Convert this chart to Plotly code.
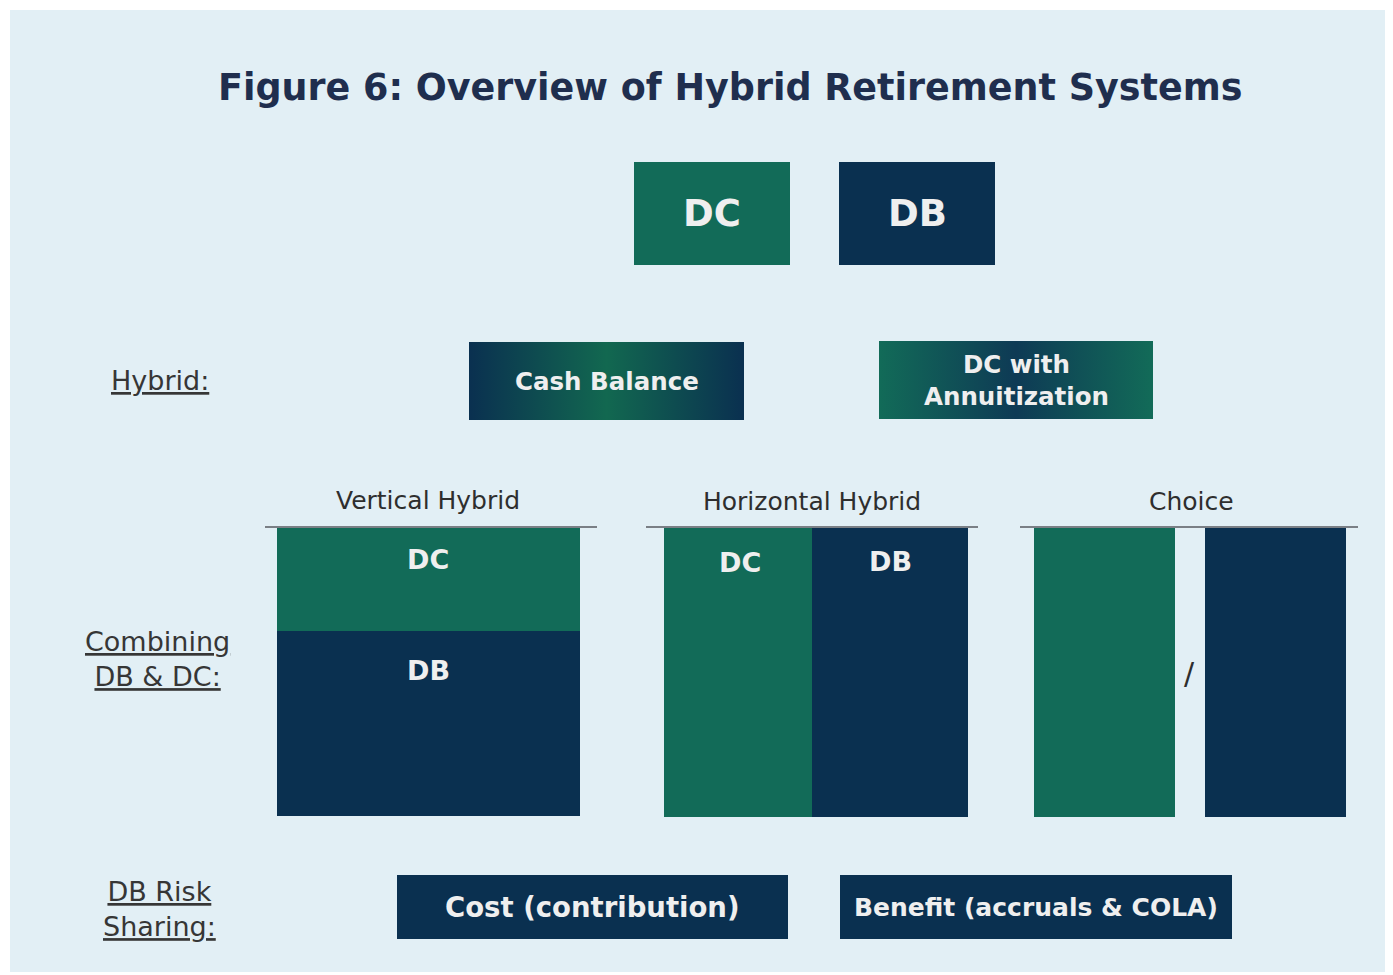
import plotly.graph_objects as go

# ---- content ----
title_text = "<b>Figure 6: Overview of Hybrid Retirement Systems</b>"
row_labels = ["Hybrid:", "Combining<br>DB & DC:", "DB Risk<br>Sharing:"]
top_labels = ["DC", "DB"]
hybrid_labels = ["Cash Balance", "DC with<br>Annuitization"]
section_labels = ["Vertical Hybrid", "Horizontal Hybrid", "Choice"]
risk_labels = ["Cost (contribution)", "Benefit (accruals & COLA)"]

# ---- styles ----
GREEN = "#126B58"
NAVY = "#0A3050"
BG = "#E2EFF5"
TXT = "#EFEFEF"
DARK = "#2E2E2E"
TITLE_C = "#1F2E4E"
FONT = "DejaVu Sans"

# ---- layout positions (pixels) ----
row_label_pos = [(160, 380), (157, 659), (159, 909)]
top_boxes = [(634, 790, 162, 265, GREEN), (839, 995, 162, 265, NAVY)]
hybrid_boxes = [(469, 744, 342, 420), (879, 1153, 341, 419)]
section_pos = [(428, 500, 265, 597), (812, 501, 646, 978), (1191, 501, 1020, 1358)]
risk_boxes = [(397, 788, 875, 939), (840, 1232, 875, 939)]

OFF = 8  # page body margin compensation

fig = go.Figure()
shapes = []
ann = []

def rect(x0, x1, y0, y1, color):
    shapes.append(dict(type="rect", xref="x", yref="y", x0=x0, x1=x1, y0=y0, y1=y1,
                       fillcolor=color, line=dict(width=0), layer="below"))

def text(x, y, t, size, color, bold=False, under=False, family=FONT):
    f = dict(size=size, color=color, family=family)
    if under:
        f["lineposition"] = "under"
    ann.append(dict(x=x, y=y, xref="x", yref="y", text=(f"<b>{t}</b>" if bold else t),
                    showarrow=False, font=f, align="center", xanchor="center", yanchor="middle"))

# background panel
rect(10, 1385, 10, 972, BG)

# title
ann.append(dict(x=730, y=87, xref="x", yref="y", text=title_text, showarrow=False,
                font=dict(size=36.5, color=TITLE_C, family=FONT), xanchor="center", yanchor="middle"))

# row labels
for (x, y), t in zip(row_label_pos, row_labels):
    text(x, y, t, 27, "#363636", under=True)

# top DC / DB boxes
for (x0, x1, y0, y1, c), t in zip(top_boxes, top_labels):
    rect(x0, x1, y0, y1, c)
    text((x0 + x1) / 2, (y0 + y1) / 2, t, 37, TXT, bold=True)

# hybrid boxes with gradient fills
grads = [
    [[0, NAVY], [0.5, "#126850"], [1, NAVY]],
    [[0, GREEN], [0.5, "#0E3A55"], [1, GREEN]],
]
for (x0, x1, y0, y1), t, g in zip(hybrid_boxes, hybrid_labels, grads):
    fig.add_trace(go.Scatter(x=[x0, x1, x1, x0, x0], y=[y0, y0, y1, y1, y0], mode="lines",
                             fill="toself", line=dict(width=0),
                             fillgradient=dict(type="horizontal", colorscale=g),
                             hoverinfo="skip", showlegend=False))
    text((x0 + x1) / 2, (y0 + y1) / 2, t, 24.5, TXT, bold=True)

# section headers and lines
for (cx, cy, lx0, lx1), t in zip(section_pos, section_labels):
    text(cx, cy, t, 25, DARK)
    shapes.append(dict(type="line", xref="x", yref="y", x0=lx0, x1=lx1, y0=527, y1=527,
                       line=dict(color="#7A7F85", width=2)))

# Vertical hybrid
rect(277, 580, 528, 631, GREEN)
rect(277, 580, 631, 816, NAVY)
text(428, 559, "DC", 27, TXT, bold=True)
text(428, 670, "DB", 27, TXT, bold=True)

# Horizontal hybrid
rect(664, 812, 528, 817, GREEN)
rect(812, 968, 528, 817, NAVY)
text(740, 562, "DC", 27, TXT, bold=True)
text(890, 561, "DB", 27, TXT, bold=True)

# Choice
rect(1034, 1175, 528, 817, GREEN)
rect(1205, 1346, 528, 817, NAVY)
text(1189, 673, "/", 30, DARK)

# risk sharing boxes
for (x0, x1, y0, y1), t, s in zip(risk_boxes, risk_labels, [27.5, 25]):
    rect(x0, x1, y0, y1, NAVY)
    text((x0 + x1) / 2, (y0 + y1) / 2, t, s, TXT, bold=True)

fig.update_layout(
    width=1393, height=975, margin=dict(l=0, r=0, t=0, b=0),
    paper_bgcolor="white", plot_bgcolor="white",
    xaxis=dict(range=[OFF, 1393 + OFF], visible=False, fixedrange=True),
    yaxis=dict(range=[975 + OFF, OFF], visible=False, fixedrange=True),
    shapes=shapes, annotations=ann, showlegend=False,
)
fig.write_html("out.html")
